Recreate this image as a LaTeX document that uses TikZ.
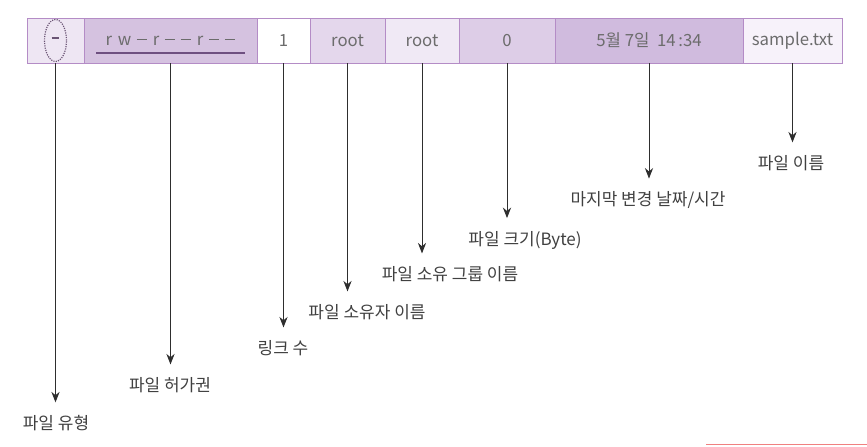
\documentclass[tikz,border=0pt]{standalone}
\usepackage{fontspec}
\setmainfont{Noto Sans CJK KR}
\usepackage{tikz}
\usetikzlibrary{arrows.meta, positioning}

\definecolor{cellline}{HTML}{B48CC6}
\definecolor{bartext}{HTML}{6C6C6C}
\definecolor{labeltext}{HTML}{404040}
\definecolor{arrowgray}{HTML}{2E2E2E}
\definecolor{ovalline}{HTML}{6A5474}
\definecolor{ulcolor}{HTML}{6E4F80}
\definecolor{cfa}{HTML}{EEE6F3}
\definecolor{cfb}{HTML}{D5C2E0}
\definecolor{cfc}{HTML}{E4D7EC}
\definecolor{cfd}{HTML}{F0E9F5}
\definecolor{cfe}{HTML}{DDCDE7}
\definecolor{cff}{HTML}{D0BBDE}
\definecolor{cfg}{HTML}{F7F2FA}
\definecolor{edgeline}{HTML}{F08080}

% a longer dash for the permission string
\newcommand{\permdash}{\rule[0.3em]{0.62em}{0.09em}}

\begin{document}
\begin{tikzpicture}[x=0.03cm, y=-0.03cm,
  cell/.style={draw=cellline, line width=0.8pt, inner sep=0pt,
    minimum height=1.35cm, text=bartext, font=\fontsize{14.3}{16}\selectfont},
  lbl/.style={text=labeltext, font=\fontsize{14.5}{16}\selectfont,
    inner sep=1pt, outer ysep=10pt},
  arr/.style={draw=arrowgray, line width=0.8pt, -{Stealth[length=9pt,width=7pt]}}]
 \useasboundingbox (0,0) rectangle (867,446);

 % the fields of one ls -l line
 \node[cell, fill=cfa, minimum width=1.71cm] (type) at (55.5,40.5) {\textcolor{ovalline}{\rule[0.3em]{0.45em}{0.12em}}};
 \node[cell, fill=cfb, minimum width=5.19cm] (perm) at (170.5,40.5) {r\,\,w\,\,\permdash\,\,r\,\,\permdash\,\,\permdash\,\,r\,\,\permdash\,\,\permdash};
 \node[cell, fill=white, minimum width=1.59cm] (links) at (283.5,40.5) {1};
 \node[cell, fill=cfc, minimum width=2.25cm] (owner) at (347.5,40.5) {root};
 \node[cell, fill=cfd, minimum width=2.22cm] (group) at (422,40.5) {root};
 \node[cell, fill=cfe, minimum width=2.88cm] (size) at (507,40.5) {0};
 \node[cell, fill=cff, minimum width=5.64cm] (mtime) at (649,40.5) {5월 7일~~14\,:34};
 \node[cell, fill=cfg, minimum width=2.97cm] (fname) at (792.5,40.5) {sample.txt};

 \draw[ovalline, densely dotted, line width=1pt] (type.center) ellipse [x radius=0.33cm, y radius=0.63cm];
 \draw[ulcolor, line width=1.6pt] (96,53) -- (245,53);

 % labels
 \node[lbl] (ltype) at (56,423) {파일 유형};
 \node[lbl] (lperm) at (170,385) {파일 허가권};
 \node[lbl] (llinks) at (283,348) {링크 수};
 \node[lbl] (lowner) at (367,312) {파일 소유자 이름};
 \node[lbl] (lgroup) at (450,274) {파일 소유 그룹 이름};
 \node[lbl] (lsize) at (525,240) {파일 크기(Byte)};
 \node[lbl] (lmtime) at (648,200) {마지막 변경 날짜/시간};
 \node[lbl] (lfname) at (791,163) {파일 이름};

 \draw[arr] (type.south) -- (type.south |- ltype.north);
 \draw[arr] (perm.south) -- (perm.south |- lperm.north);
 \draw[arr] (links.south) -- (links.south |- llinks.north);
 \draw[arr] (owner.south) -- (owner.south |- lowner.north);
 \draw[arr] (group.south) -- (group.south |- lgroup.north);
 \draw[arr] (size.south) -- (size.south |- lsize.north);
 \draw[arr] (mtime.south) -- (mtime.south |- lmtime.north);
 \draw[arr] (fname.south) -- (fname.south |- lfname.north);

 \draw[edgeline, line width=0.8pt] (706,444.5) -- (867,444.5);
\end{tikzpicture}
\end{document}
